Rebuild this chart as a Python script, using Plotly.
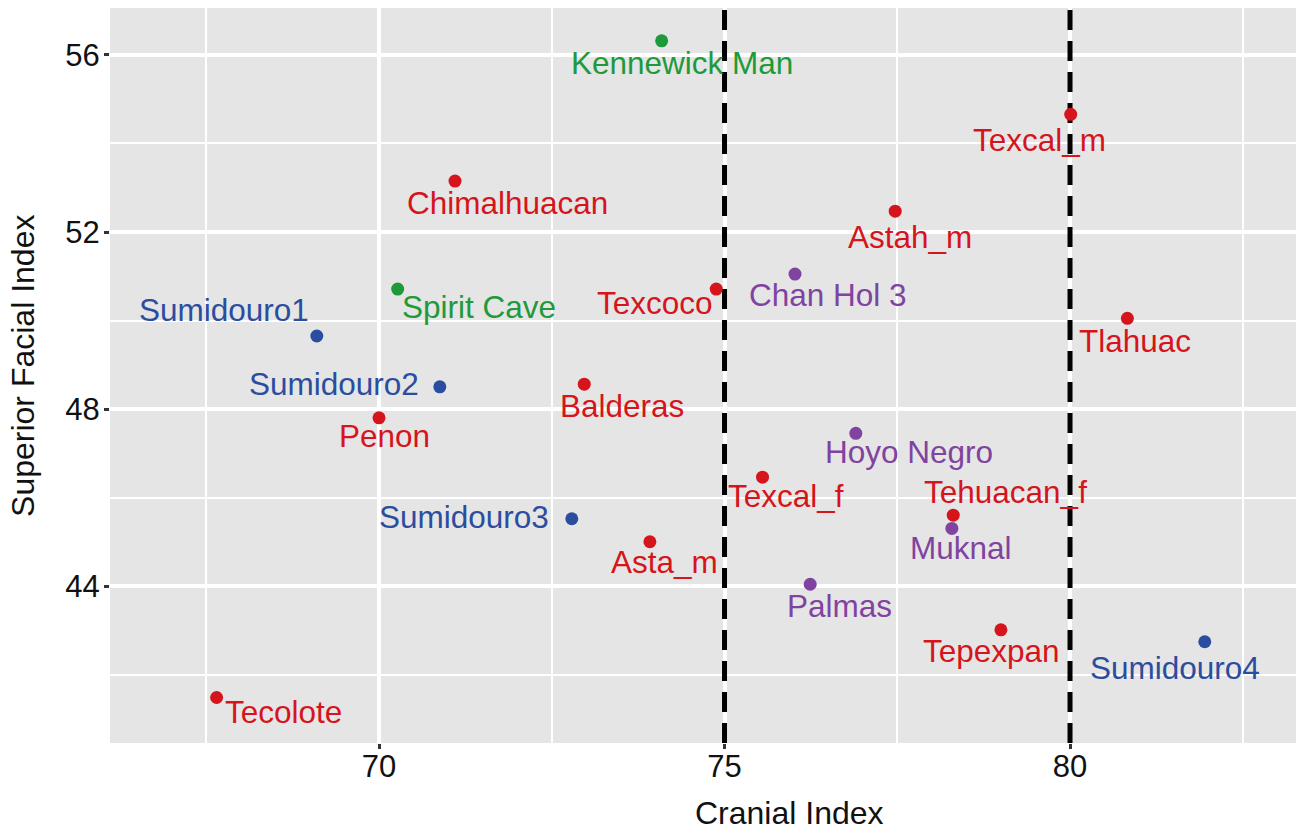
import plotly.graph_objects as go

# ---- data ----
names = ["Kennewick Man", "Texcal_m", "Chimalhuacan", "Astah_m", "Chan Hol 3",
         "Spirit Cave", "Texcoco", "Tlahuac", "Sumidouro1", "Sumidouro2",
         "Balderas", "Penon", "Hoyo Negro", "Texcal_f", "Tehuacan_f",
         "Sumidouro3", "Muknal", "Asta_m", "Palmas", "Tepexpan",
         "Sumidouro4", "Tecolote"]
cranial_index = [74.09, 80.01, 71.10, 77.47, 76.02,
                 70.27, 74.88, 80.83, 69.10, 70.88,
                 72.97, 70.00, 76.90, 75.55, 78.31,
                 72.79, 78.29, 73.92, 76.24, 79.00,
                 81.95, 67.65]
facial_index = [56.32, 54.66, 53.15, 52.47, 51.05,
                50.71, 50.71, 50.05, 49.65, 48.50,
                48.56, 47.80, 47.45, 46.46, 45.60,
                45.52, 45.30, 45.00, 44.04, 43.01,
                42.74, 41.48]
group = ["North America", "Mexico", "Mexico", "Mexico", "Yucatan",
         "North America", "Mexico", "Mexico", "Lagoa Santa", "Lagoa Santa",
         "Mexico", "Mexico", "Yucatan", "Mexico", "Mexico",
         "Lagoa Santa", "Yucatan", "Mexico", "Yucatan", "Mexico",
         "Lagoa Santa", "Mexico"]
thresholds = [75, 80]
x_ticks = [70, 75, 80]
y_ticks = [44, 48, 52, 56]
x_title = "Cranial Index"
y_title = "Superior Facial Index"

# ---- styling / layout ----
X_RANGE = [66.107, 83.386]
Y_RANGE = [40.452, 57.062]
colors = {"Mexico": "#D5151B", "Lagoa Santa": "#2B4DA0",
          "North America": "#1E9A3A", "Yucatan": "#8043A0"}
# label offsets in pixels (dx right, dy down) - layout only
label_offsets = {
    "Kennewick Man": (20, 22), "Texcal_m": (-31, 26), "Chimalhuacan": (52, 22),
    "Astah_m": (15, 26), "Chan Hol 3": (33, 21), "Spirit Cave": (81, 18),
    "Texcoco": (-61, 14), "Tlahuac": (8, 23), "Sumidouro1": (-93, -26),
    "Sumidouro2": (-106, -3), "Balderas": (38, 22), "Penon": (5, 18),
    "Hoyo Negro": (53, 19), "Texcal_f": (23, 19), "Tehuacan_f": (52, -23),
    "Sumidouro3": (-108, -2), "Muknal": (9, 20), "Asta_m": (15, 20),
    "Palmas": (29, 22), "Tepexpan": (-9, 21), "Sumidouro4": (-30, 26),
    "Tecolote": (67, 14),
}
FONT = "Liberation Sans, Arial, sans-serif"

fig = go.Figure()

# vertical dashed reference lines (drawn first so points sit on top)
for xv in thresholds:
    fig.add_trace(go.Scatter(
        x=[xv, xv], y=Y_RANGE, mode="lines", hoverinfo="skip", showlegend=False,
        line=dict(color="black", width=5, dash="20px,11px"),
    ))

for g in ["Mexico", "Lagoa Santa", "North America", "Yucatan"]:
    idx = [i for i, gg in enumerate(group) if gg == g]
    fig.add_trace(go.Scatter(
        x=[cranial_index[i] for i in idx],
        y=[facial_index[i] for i in idx],
        mode="markers", name=g,
        marker=dict(color=colors[g], size=13, line=dict(width=0)),
        hovertext=[names[i] for i in idx],
        showlegend=False,
    ))

for n, xv, yv, g in zip(names, cranial_index, facial_index, group):
    dx, dy = label_offsets[n]
    fig.add_annotation(x=xv, y=yv, text=n, showarrow=False,
                       xshift=dx, yshift=-dy,
                       font=dict(family=FONT, size=31.5, color=colors[g]))

# axis titles (placed as in the reference, whose panel is cropped on the right)
fig.add_annotation(xref="paper", yref="paper", x=0.5687, y=0, yshift=-70,
                   xanchor="center", yanchor="middle", showarrow=False,
                   text=x_title, font=dict(family=FONT, size=32, color="#111111"))
fig.add_annotation(xref="paper", yref="paper", x=0, y=0.513, xshift=-87,
                   xanchor="center", yanchor="middle", showarrow=False, textangle=-90,
                   text=y_title, font=dict(family=FONT, size=32, color="#111111"))

fig.update_layout(
    width=1296, height=818,
    margin=dict(l=102, r=0, t=0, b=83),
    paper_bgcolor="white", plot_bgcolor="#E5E5E5",
    font=dict(family=FONT, color="#111111"),
    xaxis=dict(range=X_RANGE, tickvals=x_ticks, showgrid=True,
               gridcolor="white", gridwidth=4, zeroline=False,
               ticks="outside", ticklen=5, tickwidth=3, tickcolor="#333333",
               ticklabelstandoff=-9,
               tickfont=dict(size=31, color="#111111"),
               minor=dict(tickvals=[67.5, 72.5, 77.5, 82.5], showgrid=True,
                          gridcolor="white", gridwidth=2, ticks=""),
               automargin=False),
    yaxis=dict(range=Y_RANGE, tickvals=y_ticks, showgrid=True,
               gridcolor="white", gridwidth=4, zeroline=False,
               ticks="outside", ticklen=5, tickwidth=3, tickcolor="#333333",
               ticklabelstandoff=-2,
               tickfont=dict(size=31, color="#111111"),
               minor=dict(tickvals=[42, 46, 50, 54], showgrid=True,
                          gridcolor="white", gridwidth=2, ticks=""),
               automargin=False),
)

fig.write_html("out.html")
